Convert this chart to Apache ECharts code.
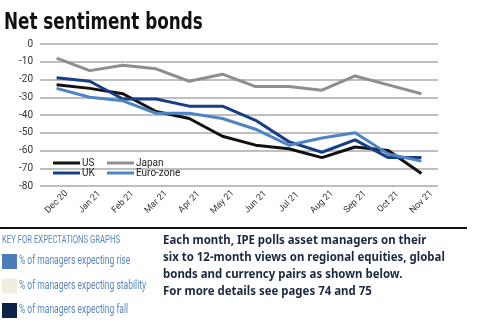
<!DOCTYPE html>
<html>
<head>
<meta charset="utf-8">
<script src="https://cdn.jsdelivr.net/npm/echarts@6/dist/echarts.min.js"></script>
<style>
  html, body { margin: 0; padding: 0; background: #fff; }
  #chart { width: 480px; height: 323px; }
</style>
</head>
<body>
<div id="chart"></div>
<script>
// Monthly net sentiment readings for government bond markets
const months = ['Dec 20', 'Jan 21', 'Feb 21', 'Mar 21', 'Apr 21', 'May 21',
                'Jun 21', 'Jul 21', 'Aug 21', 'Sep 21', 'Oct 21', 'Nov 21'];
const us       = [-23, -25, -28, -38, -42, -52, -57, -59, -64, -58, -60, -73];
const japan    = [-8, -15, -12, -14, -21, -17, -24, -24, -26, -18, -23, -28];
const uk       = [-19, -21, -31, -31, -35, -35, -43, -55, -61, -54, -64, -64];
const eurozone = [-25, -30, -32, -39, -39, -42, -48, -57, -53, -50, -62, -66];
const yTicks = { min: -80, max: 0, step: 10 };

const keyItems = [
  { label: '% of managers expecting rise', color: '#4a7db8' },
  { label: '% of managers expecting stability', color: '#f1eee0' },
  { label: '% of managers expecting fall', color: '#0c2249' }
];
const noteLines = [
  'Each month, IPE polls asset managers on their',
  'six to 12-month views on regional equities, global',
  'bonds and currency pairs as shown below.',
  'For more details see pages 74 and 75'
];

const sans = 'Roboto, "Noto Sans", sans-serif';

const chart = echarts.init(document.getElementById('chart'), null, { renderer: 'canvas' });

function line(name, data, color) {
  return {
    name, type: 'line', data, symbol: 'none', smooth: false,
    lineStyle: { color, width: 3 }, itemStyle: { color },
    z: 3
  };
}

// condensed text: a normal face squeezed horizontally
function narrowText(x, y, text, font, fill, sx) {
  return { type: 'text', x: x, y: y, scaleX: sx, scaleY: 1,
           style: { text, font, fill, textVerticalAlign: 'top' } };
}

const graphics = [
  narrowText(4, 12, 'Net sentiment bonds', 'bold 23px "DejaVu Sans", sans-serif', '#111', 0.73),
  { type: 'line', shape: { x1: 0, y1: 228, x2: 467, y2: 228 },
    style: { stroke: '#111', lineWidth: 2 } },
  narrowText(2, 235, 'KEY FOR EXPECTATIONS GRAPHS', '11px ' + sans, '#5a86bf', 0.70)
];
keyItems.forEach((k, i) => {
  const y = 254 + i * 24.5;
  graphics.push({ type: 'rect', shape: { x: 2, y: y, width: 15, height: 15 },
                  style: { fill: k.color } });
  graphics.push(narrowText(19, y + 1, k.label, '12px ' + sans, '#5a86bf', 0.71));
});
noteLines.forEach((t, i) => {
  graphics.push(narrowText(163, 234 + i * 17, t, 'bold 12.5px "Noto Sans", sans-serif', '#1b2940', 0.915));
});

chart.setOption({
  animation: false,
  backgroundColor: '#fff',
  legend: [
    { data: ['US', 'UK'], orient: 'vertical', left: 48, top: 153, itemWidth: 27, itemHeight: 3,
      itemGap: 0, icon: 'rect',
      textStyle: { fontFamily: sans, fontSize: 10, lineHeight: 10, color: '#222', padding: [0, 0, 0, -3] } },
    { data: ['Japan', 'Euro-zone'], orient: 'vertical', left: 102, top: 153, itemWidth: 27, itemHeight: 3,
      itemGap: 0, icon: 'rect',
      textStyle: { fontFamily: sans, fontSize: 10, lineHeight: 10, color: '#222', padding: [0, 0, 0, -3] } }
  ],
  grid: { left: 40, right: 42, top: 44, bottom: 137, containLabel: false },
  xAxis: {
    type: 'category', data: months, boundaryGap: true,
    axisLine: { show: false }, axisTick: { show: false },
    axisLabel: { rotate: 45, fontFamily: sans, fontSize: 9, color: '#333', margin: 16, interval: 0,
                 align: 'center', verticalAlign: 'middle' }
  },
  yAxis: {
    type: 'value', min: yTicks.min, max: yTicks.max, interval: yTicks.step,
    axisLine: { show: false }, axisTick: { show: false },
    axisLabel: { fontFamily: sans, fontSize: 10, color: '#333', margin: 7 },
    splitLine: { lineStyle: { color: '#aaaaaa', width: 1.5 } }
  },
  series: [
    line('US', us, '#111111'),
    line('Japan', japan, '#8e8e8e'),
    line('UK', uk, '#173e86'),
    line('Euro-zone', eurozone, '#4f84c4')
  ],
  graphic: graphics
});
</script>
</body>
</html>
